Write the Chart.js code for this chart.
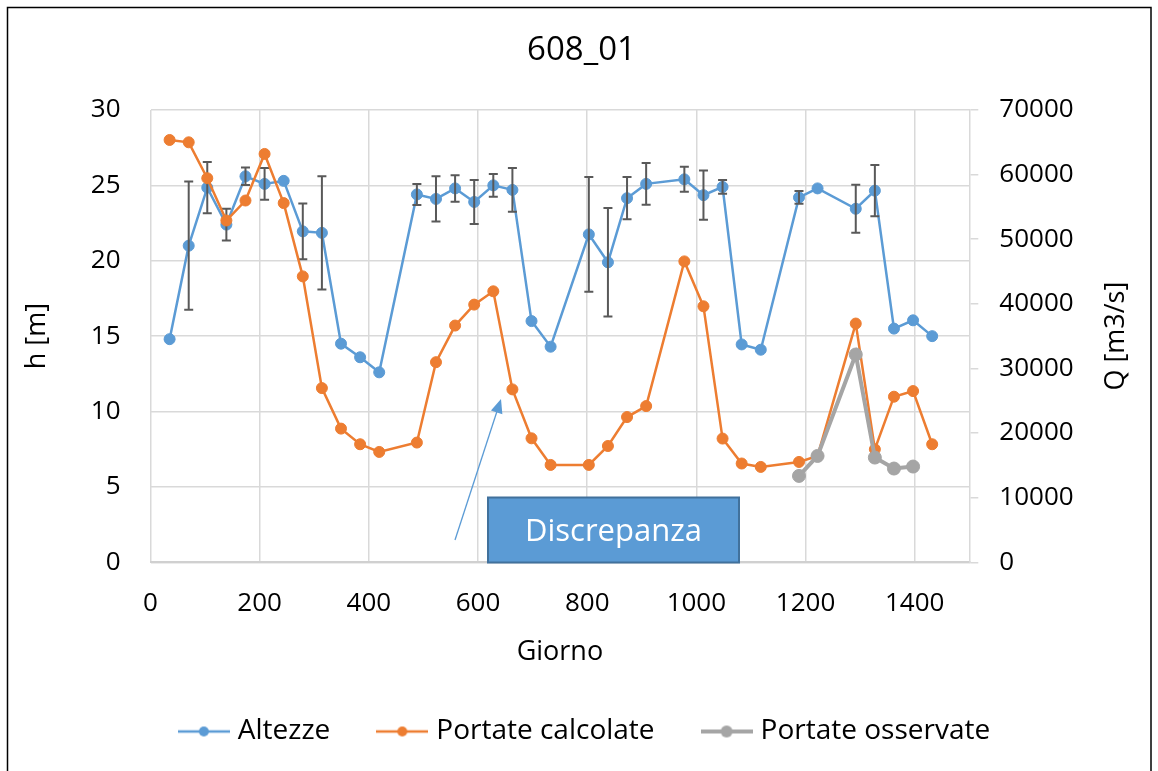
<!DOCTYPE html>
<html>
<head>
<meta charset="utf-8">
<script src="https://cdn.jsdelivr.net/npm/chart.js@4.4.1/dist/chart.umd.min.js"></script>
<style>
  html, body { margin: 0; padding: 0; background: #ffffff; }
  #wrap { width: 1158px; height: 771px; }
</style>
</head>
<body>
<div id="wrap"><canvas id="grafico" width="1158" height="771"></canvas></div>
<script>
const giorni = [35, 70, 104, 139, 174, 209, 244, 279, 314, 349, 384, 419, 488, 523, 558, 593, 628, 663,
    698, 733, 803, 838, 873, 908, 978, 1013, 1048, 1083, 1118, 1188, 1222, 1292, 1327, 1362, 1397, 1432];
const altezze = [14.8, 21.0, 24.85, 22.4, 25.6, 25.1, 25.3, 21.95, 21.85, 14.5, 13.6, 12.6, 24.4, 24.1, 24.8, 23.9, 25.0, 24.7,
    16.0, 14.3, 21.75, 19.9, 24.15, 25.1, 25.4, 24.35, 24.9, 14.45, 14.1, 24.2, 24.8, 23.45, 24.65, 15.5, 16.05, 15.0];
const erroriAltezze = [0, 4.25, 1.7, 1.05, 0.58, 1.05, 0, 1.85, 3.75, 0, 0, 0, 0.7, 1.5, 0.88, 1.46, 0.76, 1.45,
    0, 0, 3.8, 3.6, 1.4, 1.39, 0.83, 1.63, 0.45, 0, 0, 0.42, 0, 1.6, 1.7, 0, 0, 0];
const portateCalcolate = [65360, 65000, 59440, 52900, 55990, 63200, 55590, 44250, 26960, 20690, 18270, 17080, 18530, 30970, 36640, 39880, 41940, 26760,
    19190, 15070, 15070, 18000, 22480, 24180, 46570, 39620, 19150, 15290, 14760, 15530, 16460, 36950, 17490, 25630, 26500, 18270];
const giorniOsservati = [1188, 1222, 1292, 1327, 1362, 1397];
const portateOsservate = [13370, 16460, 32160, 16210, 14510, 14820];

const etichette = ['Altezze', 'Portate calcolate', 'Portate osservate'];
const colori = ['#5B9BD5', '#ED7D31', '#A5A5A5'];
const FONT = "'Open Sans', 'Noto Sans', sans-serif";

// numeri senza separatore delle migliaia, come in Excel
const numero = v => String(v);

// simbolo legenda: linea con pallino
function simboloLegenda(colore, spessore, raggio) {
    const c = document.createElement('canvas');
    c.width = 52; c.height = 16;
    const g = c.getContext('2d');
    g.strokeStyle = colore; g.lineWidth = spessore;
    g.beginPath(); g.moveTo(0, 8); g.lineTo(52, 8); g.stroke();
    g.fillStyle = colore;
    g.beginPath(); g.arc(26, 8, raggio, 0, Math.PI * 2); g.fill();
    return c;
}
const simboli = [simboloLegenda(colori[0], 2.5, 5), simboloLegenda(colori[1], 2.5, 5), simboloLegenda(colori[2], 4, 6)];

// barre d'errore sulla serie Altezze
const barreErrore = {
    id: 'barreErrore',
    afterDatasetDraw(chart, args) {
        if (args.index !== 0) return;
        const {ctx, scales: {x, y}} = chart;
        ctx.save();
        ctx.strokeStyle = '#595959';
        ctx.lineWidth = 2;
        giorni.forEach((g, i) => {
            const e = erroriAltezze[i];
            if (!e) return;
            const px = x.getPixelForValue(g);
            const top = y.getPixelForValue(altezze[i] + e);
            const bot = y.getPixelForValue(altezze[i] - e);
            ctx.beginPath();
            ctx.moveTo(px, top); ctx.lineTo(px, bot);
            ctx.moveTo(px - 4.5, top); ctx.lineTo(px + 4.5, top);
            ctx.moveTo(px - 4.5, bot); ctx.lineTo(px + 4.5, bot);
            ctx.stroke();
        });
        ctx.restore();
    }
};

// titolo, cornice, titolo asse destro, riquadro "Discrepanza" con freccia
const decorazioni = {
    id: 'decorazioni',
    beforeDraw(chart) {
        const ctx = chart.ctx;
        ctx.save();
        ctx.fillStyle = '#ffffff';
        ctx.fillRect(0, 0, chart.width, chart.height);
        ctx.restore();
    },
    afterDraw(chart) {
        const ctx = chart.ctx;
        const area = chart.chartArea;
        ctx.save();
        ctx.fillStyle = '#000000';
        ctx.textAlign = 'center';
        ctx.textBaseline = 'middle';
        // titolo del grafico
        ctx.font = '33px ' + FONT;
        ctx.fillText('608_01', 581.5, 51);
        // titolo asse secondario
        ctx.font = '27px ' + FONT;
        ctx.translate(1116, (area.top + area.bottom) / 2);
        ctx.rotate(-Math.PI / 2);
        ctx.fillText('Q [m3/s]', 0, 0);
        ctx.restore();

        ctx.save();
        // freccia
        ctx.strokeStyle = '#5B9BD5';
        ctx.fillStyle = '#5B9BD5';
        ctx.lineWidth = 1.3;
        const x0 = 455, y0 = 540, x1 = 501, y1 = 399;
        const ang = Math.atan2(y1 - y0, x1 - x0);
        ctx.beginPath();
        ctx.moveTo(x0, y0);
        ctx.lineTo(x1 - 10 * Math.cos(ang), y1 - 10 * Math.sin(ang));
        ctx.stroke();
        ctx.beginPath();
        ctx.moveTo(x1, y1);
        ctx.lineTo(x1 - 14 * Math.cos(ang) + 6 * Math.sin(ang), y1 - 14 * Math.sin(ang) - 6 * Math.cos(ang));
        ctx.lineTo(x1 - 14 * Math.cos(ang) - 6 * Math.sin(ang), y1 - 14 * Math.sin(ang) + 6 * Math.cos(ang));
        ctx.closePath();
        ctx.fill();

        // riquadro
        ctx.fillStyle = '#5B9BD5';
        ctx.fillRect(488, 497.5, 251, 65);
        ctx.strokeStyle = '#41719C';
        ctx.lineWidth = 2;
        ctx.strokeRect(488, 497.5, 251, 65);
        ctx.fillStyle = '#ffffff';
        ctx.font = '31px ' + FONT;
        ctx.textAlign = 'center';
        ctx.textBaseline = 'middle';
        ctx.fillText('Discrepanza', 613.5, 532);

        // cornice
        ctx.strokeStyle = '#000000';
        ctx.lineWidth = 1.5;
        ctx.strokeRect(7.5, 7.5, 1143.5, 800);
        ctx.restore();
    }
};

const ctx = document.getElementById('grafico').getContext('2d');
new Chart(ctx, {
    type: 'line',
    data: {
        datasets: [
            {
                label: etichette[0],
                data: giorni.map((g, i) => ({x: g, y: altezze[i]})),
                yAxisID: 'y',
                borderColor: colori[0],
                backgroundColor: colori[0],
                borderWidth: 2.5,
                pointRadius: 5.5,
                pointBorderWidth: 1,
                order: 3
            },
            {
                label: etichette[1],
                data: giorni.map((g, i) => ({x: g, y: portateCalcolate[i]})),
                yAxisID: 'y2',
                borderColor: colori[1],
                backgroundColor: colori[1],
                borderWidth: 2.5,
                pointRadius: 5.5,
                pointBorderWidth: 1,
                order: 2
            },
            {
                label: etichette[2],
                data: giorniOsservati.map((g, i) => ({x: g, y: portateOsservate[i]})),
                yAxisID: 'y2',
                borderColor: colori[2],
                backgroundColor: colori[2],
                borderWidth: 4,
                pointRadius: 6.5,
                pointBorderWidth: 1,
                order: 1
            }
        ]
    },
    options: {
        responsive: false,
        animation: false,
        layout: { padding: { left: 16, right: 0, top: 110, bottom: 15.5 } },
        scales: {
            x: {
                type: 'linear',
                min: 0,
                max: 1500,
                afterFit: s => { s.height = 103.2; },
                ticks: { stepSize: 200, includeBounds: false, padding: 26, color: '#000', callback: numero, font: { family: FONT, size: 26 } },
                grid: { color: '#d9d9d9', lineWidth: 1.5, drawTicks: false },
                border: { color: '#d0d0d0', width: 2 },
                title: { display: true, text: 'Giorno', color: '#000', font: { family: FONT, size: 27, lineHeight: 1 }, padding: 0 }
            },
            y: {
                position: 'left',
                min: 0,
                max: 30,
                afterFit: s => { s.width = 134.5; },
                ticks: { stepSize: 5, padding: 30, color: '#000', callback: numero, font: { family: FONT, size: 26 } },
                grid: { color: '#d9d9d9', lineWidth: 1.5, drawTicks: false },
                border: { display: false },
                title: { display: true, text: 'h [m]', color: '#000', font: { family: FONT, size: 27 }, padding: { top: 4.8, bottom: 0 } }
            },
            y2: {
                position: 'right',
                min: 0,
                max: 70000,
                afterFit: s => { s.width = 188.7; },
                ticks: { stepSize: 10000, padding: 21, color: '#000', callback: numero, font: { family: FONT, size: 26 } },
                grid: { drawOnChartArea: false, drawTicks: true, tickLength: 9, color: '#d9d9d9', lineWidth: 1.5 },
                border: { color: '#d9d9d9', width: 1.5 }
            }
        },
        plugins: {
            title: { display: false },
            legend: {
                position: 'bottom',
                labels: {
                    usePointStyle: true,
                    pointStyleWidth: 40,
                    padding: 52,
                    color: '#000',
                    font: { family: FONT, size: 28 },
                    generateLabels: chart => etichette.map((t, i) => ({
                        text: t,
                        datasetIndex: i,
                        pointStyle: simboli[i],
                        fillStyle: colori[i],
                        strokeStyle: colori[i],
                        lineWidth: 0,
                        hidden: false,
                        fontColor: '#000'
                    }))
                }
            },
            tooltip: { enabled: false }
        }
    },
    plugins: [barreErrore, decorazioni]
});
</script>
</body>
</html>
